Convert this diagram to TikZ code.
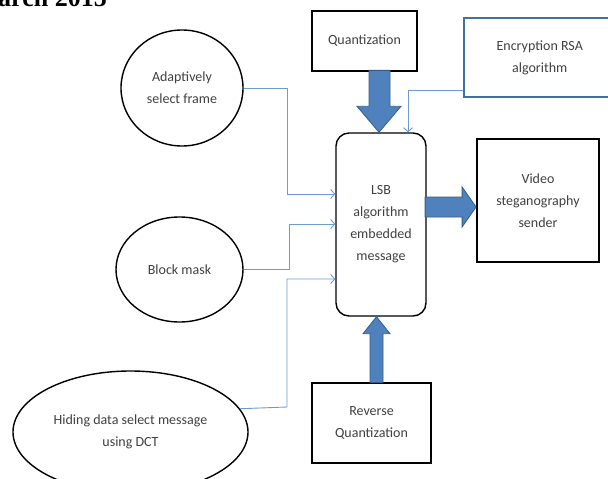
\documentclass[tikz,border=0pt]{standalone}
\usepackage{fontspec}
\setmainfont{Carlito}
\newfontfamily\hdrfont{Liberation Serif}
\usetikzlibrary{shapes.geometric,arrows.meta,calc}
\definecolor{txt}{HTML}{404040}
\definecolor{bigblue}{HTML}{4F81BD}
\definecolor{bigedge}{HTML}{385D8A}
\definecolor{thin}{HTML}{6F9AD3}
\definecolor{encedge}{HTML}{41719C}
\begin{document}
\begin{tikzpicture}[x=1pt,y=-1pt,
  lbl/.style={text=txt,font=\fontsize{14}{22}\selectfont,align=center,inner sep=0pt},
  oval/.style={lbl,ellipse,draw=black,line width=1.4pt},
  sqbox/.style={lbl,rectangle,draw=black,line width=1.8pt},
  conn/.style={draw=thin,line width=0.9pt,-{Straight Barb[length=4pt,width=9pt]}},
  fat/.style={fill=bigblue,draw=bigedge,line width=0.8pt}]
\useasboundingbox (0,0) rectangle (608,479);
\clip (0,0) rectangle (608,479);
% header fragment
\node[font=\hdrfont\bfseries\fontsize{26}{26}\selectfont, anchor=base west, inner sep=0pt] (hdr) at (-2,6) {arch 2015};
% nodes
\node[sqbox, minimum width=105pt, minimum height=60pt] (quant) at (364.5,41) {Quantization};
\node[lbl, draw=encedge, line width=1.5pt, minimum width=152pt, minimum height=79pt, anchor=west] (enc) at (463,57.5) {Encryption RSA\\algorithm};
\node[oval, minimum width=122pt, minimum height=116pt] (adapt) at (182,88) {Adaptively\\select frame};
\node[oval, minimum width=127pt, minimum height=105pt] (block) at (179.5,269.5) {Block mask};
\node[oval, minimum width=235pt, minimum height=122pt] (hiding) at (130.5,432) {Hiding data select message\\using DCT};
\node[lbl, draw=black, line width=1.4pt, rounded corners=13pt, minimum width=90pt, minimum height=183pt] (lsb) at (381,224.5) {LSB\\algorithm\\embedded\\message};
\node[sqbox, minimum width=122pt, minimum height=123pt] (video) at (538,200.5) {Video\\steganography\\sender};
\node[sqbox, minimum width=119pt, minimum height=80pt] (rev) at (371.5,423) {Reverse\\Quantization};
% thin connectors
\draw[conn] (adapt.east) -- ++(44,0) |- ([yshift=30.5pt]lsb.west);
\draw[conn] (block.east) -- ++(46,0) |- ([yshift=0.5pt]lsb.west);
\draw[conn] (hiding.12) -- (287,407) |- ([yshift=-54.5pt]lsb.west);
\draw[conn] ([yshift=-32.5pt]enc.west) -| ([xshift=27pt]lsb.north);
% block arrows
\draw[fat] ([xshift=-2pt]lsb.north) -- ++(22,-26) -- ++(-11,0) -- ++(0,-36) -- ++(-21,0) -- ++(0,36) -- ++(-12,0) -- cycle;
\draw[fat] ([yshift=-6.5pt]video.west) -- ++(-14,-20) -- ++(0,10) -- ++(-37,0) -- ++(0,20) -- ++(37,0) -- ++(0,10) -- cycle;
\draw[fat] ([xshift=-4.5pt]lsb.south) -- ++(13.5,17) -- ++(-7,0) -- ++(0,49) -- ++(-13,0) -- ++(0,-49) -- ++(-7,0) -- cycle;
\end{tikzpicture}
\end{document}
